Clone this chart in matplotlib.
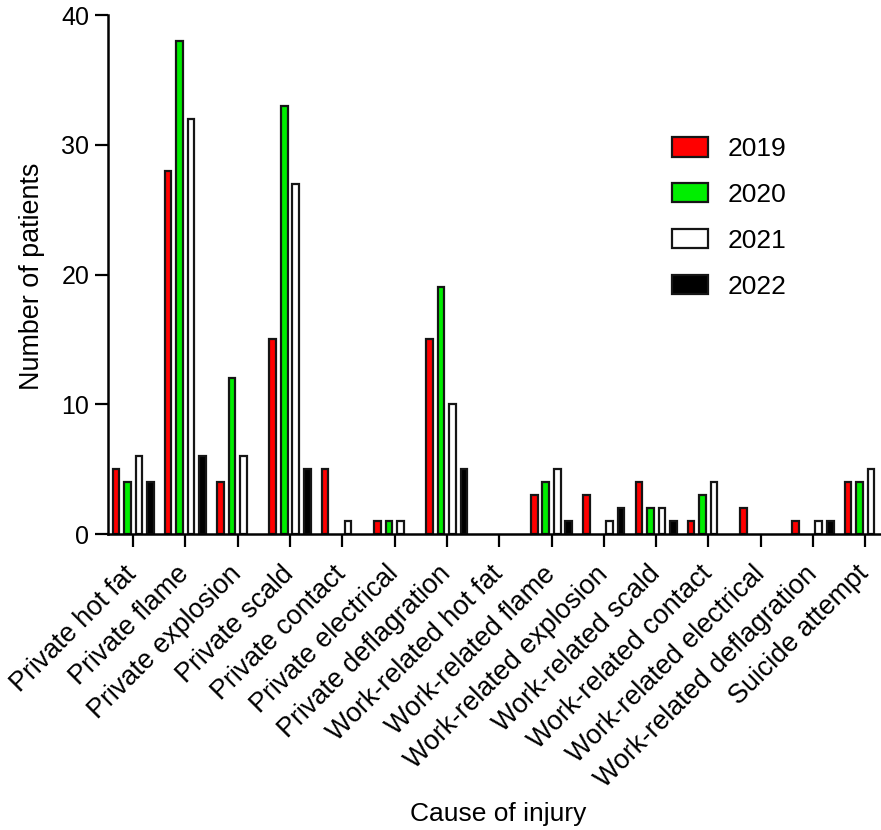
import matplotlib
matplotlib.use("Agg")
import matplotlib.pyplot as plt
import numpy as np

categories = ["Private hot fat", "Private flame", "Private explosion", "Private scald",
              "Private contact", "Private electrical", "Private deflagration",
              "Work-related hot fat", "Work-related flame", "Work-related explosion",
              "Work-related scald", "Work-related contact", "Work-related electrical",
              "Work-related deflagration", "Suicide attempt"]
y2019 = [5, 28, 4, 15, 5, 1, 15, 0, 3, 3, 4, 1, 2, 1, 4]
y2020 = [4, 38, 12, 33, 0, 1, 19, 0, 4, 0, 2, 3, 0, 0, 4]
y2021 = [6, 32, 6, 27, 1, 1, 10, 0, 5, 1, 2, 4, 0, 1, 5]
y2022 = [4, 6, 0, 5, 0, 0, 5, 0, 1, 2, 1, 0, 0, 1, 0]
years = ["2019", "2020", "2021", "2022"]
colors = ["#ff0000", "#00ee00", "#ffffff", "#000000"]

plt.rcParams['font.family'] = ['Liberation Sans', 'DejaVu Sans']
fig = plt.figure(figsize=(8.81, 8.3), dpi=100)
ax = fig.add_axes([108/881, 1-534/830, (881-108)/881, (534-15)/830])

x = np.arange(len(categories))
w = 0.125
off = 0.22
for i, (vals, c, lab) in enumerate(zip([y2019, y2020, y2021, y2022], colors, years)):
    vals = np.array(vals)
    idx = np.nonzero(vals > 0)[0]
    ax.bar(x[idx] + (i - 1.5) * off, vals[idx], width=w, color=c, edgecolor="#151515",
           linewidth=1.6, label=lab)

ax.set_xlim(-0.48, 14.3)
ax.set_ylim(0, 40)
ax.set_yticks([0, 10, 20, 30, 40])
ax.set_xticks(x)
ax.set_xticklabels(categories, rotation=45, ha="right", va="center", rotation_mode="anchor", fontsize=19.4)
ax.tick_params(axis="y", labelsize=18, width=1.6, length=9.5, pad=4)
ax.tick_params(axis="x", width=1.6, length=9, pad=17)
for s in ["top", "right"]:
    ax.spines[s].set_visible(False)
for s in ["left", "bottom"]:
    ax.spines[s].set_linewidth(1.8)
ax.set_ylabel("Number of patients", fontsize=19.4)
ax.yaxis.set_label_coords(-0.082, 0.497)
ax.set_xlabel("Cause of injury", fontsize=19)
ax.xaxis.set_label_coords(0.505, -0.516)
ax.legend(loc="upper left", bbox_to_anchor=(0.729, 0.765), frameon=False, fontsize=19,
          handlelength=1.4, handleheight=0.76, handletextpad=0.72, labelspacing=0.83,
          borderpad=0, borderaxespad=0)

fig.savefig("out.png", dpi=100)
